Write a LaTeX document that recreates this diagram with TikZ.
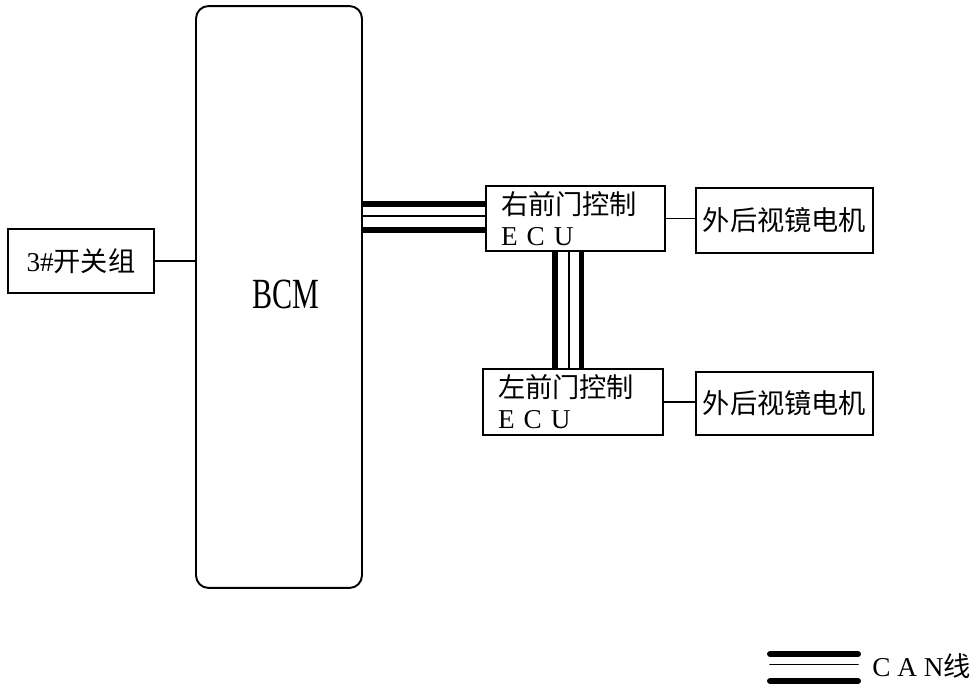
\documentclass[tikz,border=0pt]{standalone}
\usepackage{fontspec}
\setmainfont{Liberation Serif}
\newfontfamily\cjk{Noto Sans CJK SC}
\usetikzlibrary{positioning}
\begin{document}
\begin{tikzpicture}[x=0.02cm, y=-0.02cm,
    box/.style={rectangle, draw=black, line width=1.1pt, minimum height=1.3cm, inner sep=0pt, align=left, font=\fontsize{15.5}{17.6}\selectfont},
    wire/.style={line width=1.1pt},
    thickcan/.style={line width=3.4pt},
    thincan/.style={line width=1pt},
  ]
  \useasboundingbox (0,0) rectangle (976,688);

  \node[box, rounded corners=0.25cm, minimum width=3.32cm, minimum height=11.64cm] (bcm) at (279,297) {};
  \node[font=\fontsize{24.5}{28}\selectfont, inner sep=0pt] (bcmlabel) at (286,294) {\scalebox{0.7}[1]{BCM}};
  \node[box, minimum width=2.92cm, minimum height=1.28cm] (sw) at (81,261) {3\#{\cjk 开关组}};
  \node[box, minimum width=3.58cm, text width=2.98cm] (ecuR) at (575.5,218.5) {{\cjk 右前门控制}\\E C U};
  \node[box, minimum width=3.6cm, minimum height=1.32cm, text width=3cm] (ecuL) at (573,402) {{\cjk 左前门控制}\\E C U};
  \node[box, minimum width=3.54cm] (motorU) at (784.5,220.5) {\cjk 外后视镜电机};
  \node[box, minimum width=3.54cm, minimum height=1.26cm] (motorL) at (784.5,403.5) {\cjk 外后视镜电机};

  \draw[wire] (sw.east) -- (sw.east -| bcm.west);
  \draw[wire] (ecuR.east) -- (ecuR.east -| motorU.west);
  \draw[wire] (ecuL.east) -- (ecuL.east -| motorL.west);

  % CAN bus
  \foreach \y/\s in {204/thickcan, 216/thincan, 230/thickcan}
    \draw[\s] (bcm.east |- 0,\y) -- (ecuR.west |- 0,\y);
  \foreach \x/\s in {555/thickcan, 569/thincan, 581.5/thickcan}
    \draw[\s] (ecuR.south -| \x,0) -- (ecuL.north -| \x,0);

  % legend
  \coordinate (legA) at (770,654);
  \coordinate (legB) at (858,654);
  \foreach \y/\s in {654/thickcan, 664.5/thincan, 681/thickcan}
    \draw[\s, line cap=round] (legA |- 0,\y) -- (legB |- 0,\y);
  \node[anchor=west, inner sep=0pt, font=\fontsize{15.5}{17.6}\selectfont] (cantext) at (872,666) {C A N{\cjk 线}};
\end{tikzpicture}
\end{document}
